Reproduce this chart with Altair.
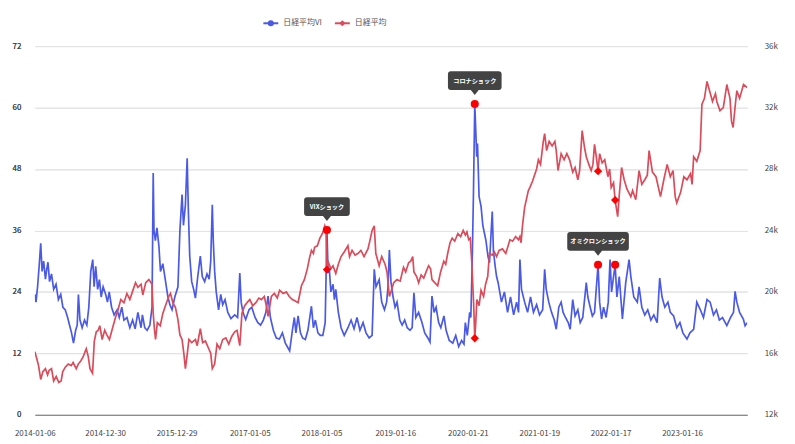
import altair as alt
import pandas as pd

# ---------------- data ----------------
vi_dates = [
 "2014-01-06","2014-01-12","2014-01-20","2014-01-28","2014-02-05","2014-02-12","2014-02-20","2014-03-01",
 "2014-03-08","2014-03-14","2014-03-22","2014-04-01","2014-04-12","2014-04-24","2014-05-06","2014-05-18",
 "2014-05-29","2014-06-10","2014-06-22","2014-07-02","2014-07-12","2014-07-22","2014-08-02","2014-08-10",
 "2014-08-16","2014-08-24","2014-09-04","2014-09-16","2014-09-28","2014-10-08","2014-10-18","2014-10-28",
 "2014-11-04","2014-11-12","2014-11-22","2014-12-01","2014-12-10","2014-12-20",
 "2015-01-02","2015-01-11","2015-01-20","2015-02-01","2015-02-14","2015-03-01","2015-03-12","2015-03-25",
 "2015-04-05","2015-04-20","2015-05-05","2015-05-19","2015-06-01","2015-06-15","2015-07-01","2015-07-08",
 "2015-07-20","2015-08-01","2015-08-15","2015-08-26","2015-09-01","2015-09-05","2015-09-12","2015-09-20",
 "2015-09-30","2015-10-08","2015-10-20","2015-11-03","2015-11-15","2015-11-25","2015-12-06","2015-12-20",
 "2016-01-05","2016-01-15","2016-01-26","2016-02-02","2016-02-12","2016-02-21","2016-02-27","2016-03-05",
 "2016-03-15","2016-03-25","2016-04-03","2016-04-15","2016-04-28","2016-05-08","2016-05-20","2016-06-01",
 "2016-06-12","2016-06-20","2016-06-28","2016-07-03","2016-07-10","2016-07-18","2016-07-30","2016-08-10",
 "2016-08-20","2016-09-01","2016-09-15","2016-10-01","2016-10-20","2016-11-04","2016-11-15","2016-11-22",
 "2016-12-01","2016-12-15",
 "2017-01-01","2017-01-15","2017-02-01","2017-02-15","2017-03-01","2017-03-15","2017-03-28","2017-04-08",
 "2017-04-20","2017-05-05","2017-05-20","2017-06-05","2017-06-20","2017-07-05","2017-07-27","2017-08-10",
 "2017-08-20","2017-08-28","2017-09-08","2017-09-20","2017-10-01","2017-10-15","2017-10-28","2017-11-15",
 "2017-11-25","2017-12-05","2017-12-18","2017-12-30",
 "2018-01-12","2018-01-24","2018-02-02","2018-02-08","2018-02-14","2018-02-22","2018-03-05","2018-03-12",
 "2018-03-19","2018-04-01","2018-04-15","2018-05-01","2018-05-20","2018-06-05","2018-06-20","2018-07-05",
 "2018-07-20","2018-08-05","2018-08-20","2018-09-05","2018-09-20","2018-10-01","2018-10-10","2018-10-26",
 "2018-11-08","2018-11-22","2018-12-03","2018-12-10","2018-12-17","2018-12-25",
 "2019-01-05","2019-01-15","2019-01-25","2019-02-08","2019-02-20","2019-03-05","2019-03-18","2019-04-01",
 "2019-04-12","2019-04-21","2019-05-01","2019-05-15","2019-06-01","2019-06-15","2019-07-01","2019-07-12",
 "2019-07-22","2019-08-02","2019-08-12","2019-08-25","2019-09-05","2019-09-21","2019-10-02","2019-10-18",
 "2019-11-05","2019-11-20","2019-12-05","2019-12-20",
 "2020-01-01","2020-01-08","2020-01-18","2020-01-30","2020-02-05","2020-02-12","2020-02-18","2020-02-25",
 "2020-03-01","2020-03-06","2020-03-10","2020-03-18","2020-03-28","2020-04-06","2020-04-14","2020-04-22",
 "2020-05-02","2020-05-10","2020-05-24","2020-05-30","2020-06-08","2020-06-15","2020-06-23","2020-07-10",
 "2020-07-25","2020-08-10","2020-08-25","2020-09-10","2020-09-25","2020-10-05","2020-10-12","2020-10-20",
 "2020-11-05","2020-11-20","2020-12-05","2020-12-20",
 "2021-01-05","2021-01-20","2021-02-05","2021-02-15","2021-02-23","2021-03-08","2021-03-22","2021-04-05",
 "2021-04-15","2021-04-28","2021-05-10","2021-05-20","2021-06-01","2021-06-15","2021-06-25","2021-07-08",
 "2021-07-20","2021-08-03","2021-08-15","2021-08-28","2021-09-15","2021-09-23","2021-10-05","2021-10-16",
 "2021-10-27","2021-11-14","2021-11-22","2021-12-02","2021-12-12","2021-12-25",
 "2022-01-05","2022-01-14","2022-01-22","2022-02-01","2022-02-09","2022-02-18","2022-03-02","2022-03-18",
 "2022-04-04","2022-04-21","2022-04-30","2022-05-15","2022-06-02","2022-06-11","2022-06-25","2022-07-10",
 "2022-07-25","2022-08-10","2022-08-25","2022-09-11","2022-09-24","2022-10-06","2022-10-20","2022-11-05",
 "2022-11-17","2022-12-04","2022-12-20",
 "2023-01-05","2023-01-20","2023-02-10","2023-02-25","2023-03-16","2023-04-01","2023-04-18","2023-05-05",
 "2023-05-23","2023-06-08","2023-06-25","2023-07-10","2023-07-25","2023-08-10","2023-09-01","2023-09-20",
 "2023-10-05","2023-10-13","2023-10-22","2023-11-05","2023-11-24","2023-12-03","2023-12-14",
]
vi_values = [
 23.5,22,25,29,33.5,28,30,26.5,
 28.5,29.8,26,27.5,24.5,25.5,22.5,23.5,
 21,20.5,19,17.5,16,14,16.5,17.5,
 23.5,18.5,17,18.5,17.5,21,28,30.3,
 25,29,24.5,26.4,23,25,
 23.5,22,24,21,19.5,20.5,19,21,
 18.5,19,17,18.5,16.8,20,17,19.5,
 17,16.5,17.5,21,47.2,36,34,36.5,
 33,28,29.5,26,23,21.5,20.5,23,
 25,36,43,37,41,50.1,40,31,
 26,24.5,22.8,27,31,27,26,27.5,
 26.5,30,41,34,28,24,20.5,23.5,
 21.5,22.5,20,18.8,19.5,19,27.7,22,
 20,18.6,
 20.5,21,19,18,17.5,18.5,20,23.2,
 19,16.5,15,14.8,16,14,12.5,16.5,
 19,16,19.3,16,15,14.7,16.5,21.2,
 17,18.5,16,15.5,
 15.5,18,36.1,27.7,28.5,24,25.5,22.5,
 24.5,20,17,15.5,17,18.5,16.8,19,
 16.5,18,16,15,15.5,28.4,25,26.4,
 22,20.5,22,25,32.2,26,
 23,21,22,18.5,17.5,18.5,17,16.5,
 17,23.8,19,20,18,16,15,14.2,
 23.2,20,21,18,17,19.3,16.5,14.5,
 14,15.5,13.3,14.5,
 13.8,18,15.5,20,19,30,42.6,60.7,
 55.6,50.4,53,42.6,40.7,37,35.5,34,
 31,29.7,39.7,32,29,27,25.8,22,
 24,20,23,19.5,22,20,30.3,24.5,
 22,20,23,20,
 21.5,19.5,20.5,28.4,24.5,22,20,18.5,
 16.7,21,22,20,19,18,16.7,22.5,
 19.3,20.5,18,19,25.8,23,21,19.3,
 20,29.3,22,18.7,21,19,
 22,30.3,24,27,29.3,23,27,18.7,
 25.8,30.3,27,23,22,25,21,19.5,
 20.5,18.5,19.5,18,26.7,23,21,22,
 20,19.3,17,
 18,16,14.8,16,16.7,22,20.6,19,
 22.5,22,19.5,20.5,18.5,19,17.4,19,
 20,24.1,22,20,18.7,17.4,18,
]

nk_dates = [
 "2014-01-06","2014-01-15","2014-01-25","2014-02-05","2014-02-16","2014-03-01","2014-03-12","2014-03-20",
 "2014-04-01","2014-04-12","2014-04-25","2014-05-08","2014-05-20","2014-05-28","2014-06-10","2014-06-25",
 "2014-07-10","2014-07-20","2014-08-05","2014-08-15","2014-08-28","2014-09-10","2014-09-25","2014-10-05",
 "2014-10-14","2014-10-27","2014-11-05","2014-11-15","2014-11-25","2014-12-03","2014-12-15","2014-12-28",
 "2015-01-08","2015-01-21","2015-02-07","2015-02-20","2015-03-05","2015-03-20","2015-04-05","2015-04-20",
 "2015-05-05","2015-05-18","2015-06-03","2015-06-15","2015-07-01","2015-07-10","2015-07-25","2015-08-10",
 "2015-08-26","2015-09-01","2015-09-07","2015-09-13","2015-09-22","2015-10-07","2015-10-20","2015-11-05",
 "2015-11-19","2015-11-28","2015-12-10","2015-12-23",
 "2016-01-05","2016-01-15","2016-01-26","2016-02-04","2016-02-12","2016-02-20","2016-03-01","2016-03-15",
 "2016-04-03","2016-04-12","2016-04-28","2016-05-10","2016-05-24","2016-06-10","2016-06-20","2016-06-28",
 "2016-07-10","2016-07-22","2016-08-05","2016-08-20","2016-09-05","2016-09-20","2016-10-05","2016-10-20",
 "2016-11-01","2016-11-15","2016-11-26","2016-12-10","2016-12-22",
 "2017-01-05","2017-01-20","2017-02-05","2017-02-20","2017-03-05","2017-03-20","2017-04-01","2017-04-08",
 "2017-04-25","2017-05-10","2017-05-25","2017-06-06","2017-06-24","2017-07-10","2017-07-25","2017-08-10",
 "2017-08-25","2017-09-08","2017-09-25","2017-10-10","2017-10-25","2017-11-05","2017-11-15","2017-11-25",
 "2017-12-01","2017-12-15","2017-12-28",
 "2018-01-10","2018-01-22","2018-01-28","2018-02-02","2018-02-10","2018-02-22","2018-03-05","2018-03-19",
 "2018-04-01","2018-04-15","2018-05-01","2018-05-20","2018-05-28","2018-06-10","2018-06-25","2018-07-10",
 "2018-07-25","2018-08-10","2018-08-30","2018-09-10","2018-09-20","2018-10-01","2018-10-09","2018-10-26",
 "2018-11-08","2018-11-25","2018-12-05","2018-12-17","2018-12-25",
 "2019-01-08","2019-01-25","2019-02-10","2019-02-27","2019-03-10","2019-03-25","2019-04-05","2019-04-15",
 "2019-04-21","2019-05-05","2019-05-15","2019-05-28","2019-06-10","2019-06-25","2019-07-05","2019-07-15",
 "2019-07-22","2019-08-05","2019-08-20","2019-09-04","2019-09-20","2019-09-30","2019-10-10","2019-10-22",
 "2019-11-02","2019-11-15","2019-12-01","2019-12-15","2019-12-28",
 "2020-01-08","2020-01-16","2020-01-25","2020-02-02","2020-02-10","2020-02-19","2020-02-25","2020-03-01",
 "2020-03-07","2020-03-18","2020-03-28","2020-04-10","2020-04-20","2020-05-01","2020-05-10","2020-05-24",
 "2020-06-04","2020-06-15","2020-06-28","2020-07-15","2020-08-01","2020-08-13","2020-08-22","2020-09-05",
 "2020-09-20","2020-10-05","2020-10-12","2020-10-18","2020-10-25","2020-11-05","2020-11-24","2020-12-02",
 "2020-12-15",
 "2021-01-05","2021-01-14","2021-01-25","2021-02-08","2021-02-15","2021-02-25","2021-03-10","2021-03-25",
 "2021-04-08","2021-04-15","2021-04-24","2021-05-10","2021-05-25","2021-06-08","2021-06-22","2021-07-08",
 "2021-07-20","2021-08-03","2021-08-12","2021-08-25","2021-09-06","2021-09-15","2021-09-28","2021-10-10",
 "2021-10-19","2021-10-27","2021-11-05","2021-11-14","2021-11-22","2021-12-05","2021-12-18",
 "2022-01-03","2022-01-12","2022-01-20","2022-02-01","2022-02-09","2022-02-22","2022-03-02","2022-03-14",
 "2022-03-27","2022-04-10","2022-04-30","2022-05-09","2022-05-25","2022-06-11","2022-06-25","2022-07-10",
 "2022-07-23","2022-08-01","2022-08-18","2022-09-05","2022-09-28","2022-10-15","2022-11-01","2022-11-17",
 "2022-12-01","2022-12-12","2022-12-20",
 "2023-01-09","2023-01-25","2023-02-10","2023-02-28","2023-03-08","2023-03-16","2023-04-01","2023-04-18",
 "2023-04-27","2023-05-10","2023-05-23","2023-06-05","2023-06-20","2023-07-05","2023-07-12","2023-07-28",
 "2023-08-14","2023-09-01","2023-09-17","2023-09-25","2023-10-03","2023-10-15","2023-10-22","2023-11-05",
 "2023-11-25","2023-12-14",
]
nk_values = [
 16100,15700,15200,14300,14800,15000,14600,14900,
 15000,14200,14500,14100,14200,14800,15100,15300,
 15200,15400,15000,15300,15500,15800,16300,15800,
 15000,14700,16800,17400,17500,17800,16900,17500,
 17200,16900,17700,18300,18800,19500,19300,19900,
 19500,20000,20600,20300,20500,19800,20600,20800,
 20500,18600,17600,16900,18000,17800,18600,19200,
 19700,19900,19300,19000,
 18200,17200,16900,16000,15000,15800,16900,16700,
 16900,16500,17600,16700,16800,16300,16000,15000,
 15300,16600,16300,16900,17000,16600,17100,17400,
 17500,16500,18600,19100,19300,
 19500,19100,19300,19600,19500,19700,19000,18400,
 19700,19900,19600,20100,19900,20000,19700,19500,
 19400,19300,20400,20800,21500,22200,22700,22500,
 22900,23000,23500,
 23800,24300,24000,21450,21900,21500,21700,21200,
 21800,22300,22600,23000,22300,22700,22400,22500,
 22700,22300,22800,23400,24000,24300,22500,21700,
 22300,21800,21300,19700,20000,
 20600,20800,20700,21600,21300,21900,22000,22300,
 21300,21000,20600,21100,20900,21400,21700,21500,
 20800,20600,20400,21300,22000,21800,22500,23200,
 23500,23300,23800,23600,24000,
 23700,23900,23400,23500,21900,19300,16980,18000,
 19500,19100,20100,19700,20500,21000,22500,22400,
 22600,22300,22700,22800,22500,23000,23400,23300,
 23600,23400,23600,23200,24300,25500,26600,26800,
 27200,
 28000,28600,28300,29800,30300,29200,29800,29500,
 29800,29200,27900,29000,28600,29000,28600,27800,
 28100,27300,27900,30500,29400,28800,28300,27900,
 28300,29600,28800,27860,29000,28400,28600,
 27500,28000,26800,27100,25980,24900,26300,28100,
 27300,26700,26200,26600,26000,27900,27000,27300,
 27600,29200,27800,27500,26200,27300,28300,27500,
 27900,26200,25800,
 26500,27500,27300,27700,27000,28800,28500,29200,
 32200,32600,33700,33100,32400,32900,32400,31800,
 32000,33500,32600,31100,30700,32300,33100,32600,
 33500,33300,
]

# events: VI peaks (circles) and Nikkei values (diamonds)
ev_dates = ["2018-02-02", "2020-02-25", "2021-11-14", "2022-02-09"]
ev_vi = [36.1, 60.7, 29.3, 29.3]
ev_nk = [21450, 16980, 27860, 25980]

ann_labels = ["VIXショック", "コロナショック", "オミクロンショック"]
ann_dates = ["2018-02-02", "2020-02-25", "2021-11-14"]
ann_vi = [36.1, 60.7, 29.3]
ann_widths = [46, 54, 62]

x_label_dates = ["2014-01-06", "2014-12-30", "2015-12-29", "2017-01-05", "2018-01-05",
                 "2019-01-16", "2020-01-21", "2021-01-19", "2022-01-17", "2023-01-16"]
vi_ticks = [0, 12, 24, 36, 48, 60, 72]
nk_ticks = [12000, 16000, 20000, 24000, 28000, 32000, 36000]

series_names = ["日経平均VI", "日経平均"]
BLUE = "#4a5ae6"
RED = "#dc4b5b"
FONT = "Noto Sans CJK JP"

# ---------------- build ----------------
def ms(d):
    return int(pd.Timestamp(d, tz="UTC").value // 10**6)

x_domain = [ms(vi_dates[0]), ms(vi_dates[-1])]
x_values = [ms(d) for d in x_label_dates]

vi_df = pd.DataFrame({"date": vi_dates, "vi": vi_values})
nk_df = pd.DataFrame({"date": nk_dates, "nk": nk_values})
ev_df = pd.DataFrame({"date": ev_dates, "vi": ev_vi, "nk": ev_nk})

x_axis = alt.Axis(values=x_values, labelExpr="utcFormat(datum.value, '%Y-%m-%d')",
                  title=None, grid=False, ticks=False, domain=True,
                  domainColor="#6e7079", domainWidth=1, labelPadding=15,
                  labelFontSize=8, labelColor="#444", labelFont=FONT,
                  labelFlush=False, labelOverlap=False, labelBound=False)
x_enc = alt.X("date:T", scale=alt.Scale(type="utc", domain=x_domain), axis=x_axis)

vi_y = alt.Y("vi:Q", scale=alt.Scale(domain=[0, 72]),
             axis=alt.Axis(values=vi_ticks, orient="left", title=None, grid=True,
                           gridColor="#e3e3e3", gridWidth=1, domain=False, ticks=False,
                           labelPadding=14, labelFontSize=8, labelColor="#444",
                           labelFont=FONT))
nk_y = alt.Y("nk:Q", scale=alt.Scale(domain=[12000, 36000]),
             axis=alt.Axis(values=nk_ticks, orient="right", title=None, grid=False,
                           domain=False, ticks=False, labelPadding=17, labelFontSize=8,
                           labelColor="#444", labelFont=FONT,
                           labelExpr="datum.value / 1000 + 'k'"))

vi_line = alt.Chart(vi_df).mark_line(color=BLUE, strokeWidth=1.7, clip=True).encode(
    x=x_enc, y=vi_y)
vi_pts = alt.Chart(ev_df).mark_point(shape="circle", filled=True, color="#ff0000",
                                     size=66, opacity=1).encode(x=x_enc, y=vi_y)

ann_layers = []
for lab, d, v, w in zip(ann_labels, ann_dates, ann_vi, ann_widths):
    hw = w / 2
    path = (f"M{-hw+3},-33 H{hw-3} Q{hw},-33 {hw},-30 V-17 Q{hw},-14 {hw-3},-14 "
            f"H4 L0,-9 L-4,-14 H{-hw+3} Q{-hw},-14 {-hw},-17 V-30 Q{-hw},-33 {-hw+3},-33 Z")
    adf = pd.DataFrame({"date": [d], "vi": [v], "label": [lab]})
    box = alt.Chart(adf).mark_point(shape=path, size=4, filled=True, color="#333333",
                                    opacity=0.92, strokeWidth=0).encode(x=x_enc, y=vi_y)
    txt = alt.Chart(adf).mark_text(color="white", fontSize=6.2, fontWeight="bold",
                                   font=FONT, dy=-23.5, align="center",
                                   baseline="middle").encode(
        x=x_enc, y=vi_y, text="label:N")
    ann_layers += [box, txt]

nk_line = alt.Chart(nk_df).mark_line(color=RED, strokeWidth=1.7, clip=True).encode(
    x=x_enc, y=nk_y)
nk_pts = alt.Chart(ev_df).mark_point(shape="diamond", filled=True, color="#ff0000",
                                     size=70, opacity=1).encode(x=x_enc, y=nk_y)

# legend (drawn manually above the plot)
one = pd.DataFrame({"k": [0]})
leg = []
for name, col, shp, x0 in [(series_names[0], BLUE, "circle", 230),
                           (series_names[1], RED, "diamond", 302)]:
    leg.append(alt.Chart(one).mark_rule(color=col, strokeWidth=2).encode(
        x=alt.value(x0), x2=alt.value(x0 + 15), y=alt.value(-23)))
    leg.append(alt.Chart(one).mark_point(shape=shp, filled=True, color=col, size=38,
                                         opacity=1).encode(
        x=alt.value(x0 + 7.5), y=alt.value(-23)))
    leg.append(alt.Chart(one).mark_text(align="left", baseline="middle", fontSize=8,
                                        font=FONT, color="#555").encode(
        x=alt.value(x0 + 20), y=alt.value(-23), text=alt.value(name)))

# the VI line, the Nikkei line and the markers; the two y scales are independent
vi_group = alt.layer(vi_line, *leg)
nk_group = alt.layer(nk_line, nk_pts)
mark_group = alt.layer(vi_pts, *ann_layers)

chart = alt.layer(vi_group, nk_group, mark_group).resolve_scale(
    y="independent").resolve_axis(y="independent").properties(
    width=717, height=371,
    autosize=alt.AutoSizeParams(type="none"),
    padding={"left": 27, "top": 37, "right": 40, "bottom": 22},
    background="white",
).configure_view(stroke=None)

chart.save("out.html", embed_options={"renderer": "svg", "actions": False})
